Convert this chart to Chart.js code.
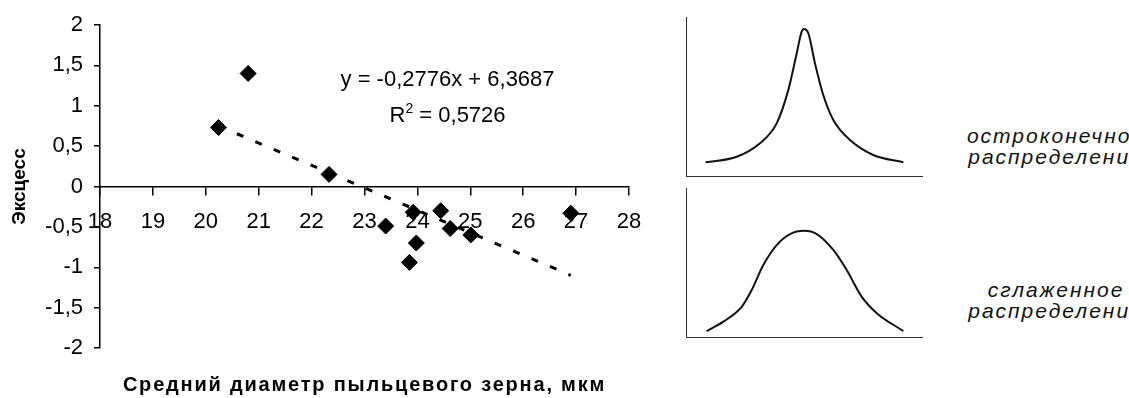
<!DOCTYPE html>
<html lang="ru">
<head>
    <meta charset="UTF-8">
    <title>Эксцесс и средний диаметр пыльцевого зерна</title>
    <script src="https://cdn.jsdelivr.net/npm/chart.js"></script>
    <style>
        body { margin: 0; background: #fff; width: 1129px; height: 398px; overflow: hidden; position: relative;
               font-family: "Liberation Sans", Arial, sans-serif; }
        canvas { position: absolute; }
        #main { left: 0; top: 0; }
        #peak { left: 676px; top: 7px; }
        #flat { left: 676px; top: 178px; }
        .lbl { position: absolute; width: 200px; text-align: center; font-style: italic; font-size: 21px;
               line-height: 21px; letter-spacing: 2px; white-space: nowrap; color: #111; }
        #xtitle { position: absolute; left: 0; width: 729px; top: 372px; text-align: center; font-weight: bold;
                  font-size: 20px; line-height: 24px; letter-spacing: 1.8px; white-space: nowrap; color: #000; }
    </style>
</head>
<body>
    <canvas id="main" width="660" height="398"></canvas>
    <canvas id="peak" width="256" height="179"></canvas>
    <canvas id="flat" width="256" height="169"></canvas>
    <div id="xtitle">Средний диаметр пыльцевого зерна, мкм</div>
    <div class="lbl" style="left:956px; top:125px">остроконечное<br>распределение</div>
    <div class="lbl" style="left:956px; top:279px">сглаженное<br>распределение</div>

    <script>
        // scatter: mean pollen grain diameter vs kurtosis
        const diameter = [20.24, 20.8, 22.33, 23.4, 23.92, 23.98, 23.85, 24.44, 24.62, 25.01, 26.9];
        const excess   = [0.73, 1.4, 0.15, -0.49, -0.32, -0.70, -0.94, -0.30, -0.52, -0.60, -0.33];

        // linear trend ends
        const trendX = [20.24, 26.9];
        const trendY = [0.75, -1.10];

        const eqText = 'y = -0,2776x + 6,3687';
        const r2Text = '0,5726';
        const eqAt = [24.57, 1.24];
        const r2At = [24.57, 0.80];

        // sketch curves on the right
        const peakX = [-5, -3.42, -2.24, -1.39, -0.8, -0.37, -0.12, 0, 0.22, 0.56, 0.98, 1.49, 2.34, 3.52, 5.05];
        const peakY = [0.086, 0.121, 0.206, 0.331, 0.54, 0.772, 0.908, 0.925, 0.898, 0.708, 0.509, 0.352, 0.226, 0.132, 0.086];
        const flatX = [-4.95, -4.1, -3.16, -2.66, -2.07, -1.39, -0.71, 0, 0.65, 1.49, 2.17, 2.93, 3.7, 5.05];
        const flatY = [0.04, 0.103, 0.204, 0.315, 0.483, 0.617, 0.691, 0.713, 0.691, 0.584, 0.45, 0.271, 0.16, 0.04];

        const FAMILY = '"Liberation Sans", Arial, sans-serif';
        const tickFont = { family: FAMILY, size: 22 };

        const trendLabel = {
            id: 'trendLabel',
            afterDatasetsDraw(chart) {
                const { ctx, scales: { x, y } } = chart;
                ctx.save();
                ctx.fillStyle = '#000';
                ctx.textBaseline = 'alphabetic';
                ctx.font = '22px ' + FAMILY;
                ctx.textAlign = 'center';
                ctx.fillText(eqText, x.getPixelForValue(eqAt[0]), y.getPixelForValue(eqAt[1]));

                // R² with a raised 2
                ctx.textAlign = 'left';
                const big = '22px ' + FAMILY, small = '14px ' + FAMILY;
                ctx.font = big;
                const wR = ctx.measureText('R').width;
                const wRest = ctx.measureText(' = ' + r2Text).width;
                ctx.font = small;
                const w2 = ctx.measureText('2').width;
                let px = x.getPixelForValue(r2At[0]) - (wR + w2 + wRest) / 2;
                const py = y.getPixelForValue(r2At[1]);
                ctx.font = big;
                ctx.fillText('R', px, py);
                px += wR;
                ctx.font = small;
                ctx.fillText('2', px, py - 9);
                px += w2;
                ctx.font = big;
                ctx.fillText(' = ' + r2Text, px, py);
                ctx.restore();
            }
        };

        new Chart(document.getElementById('main'), {
            type: 'scatter',
            data: {
                datasets: [{
                    label: 'Эксцесс',
                    data: diameter.map((d, i) => ({ x: d, y: excess[i] })),
                    pointStyle: 'rectRot',
                    pointRadius: 8,
                    backgroundColor: '#000',
                    borderColor: '#000',
                    borderWidth: 1,
                    order: 1
                }, {
                    label: 'Линейный',
                    data: trendX.map((d, i) => ({ x: d, y: trendY[i] })),
                    showLine: true,
                    borderColor: '#000',
                    borderWidth: 3,
                    borderDash: [7, 13],
                    pointRadius: 0,
                    fill: false,
                    order: 2
                }]
            },
            options: {
                responsive: false,
                animation: false,
                layout: { padding: { top: 25, right: 31, left: 0, bottom: 50 } },
                plugins: { legend: { display: false }, tooltip: { enabled: false } },
                scales: {
                    x: {
                        type: 'linear',
                        position: { y: 0 },
                        min: 18, max: 28,
                        ticks: { stepSize: 1, font: tickFont, color: '#000', padding: 14 },
                        grid: { drawOnChartArea: false, tickLength: 8, color: '#000', lineWidth: 1.5 },
                        border: { color: '#000', width: 1.5 }
                    },
                    y: {
                        min: -2, max: 2,
                        ticks: { stepSize: 0.5, font: tickFont, color: '#000', padding: 11,
                                 callback: v => String(v).replace('.', ',') },
                        grid: { drawOnChartArea: false, tickLength: 6, color: '#000', lineWidth: 1.5 },
                        border: { color: '#000', width: 1.5 },
                        title: {
                            display: true,
                            text: 'Эксцесс',
                            font: { family: FAMILY, size: 19, weight: 'bold' },
                            color: '#000',
                            padding: { top: 8, bottom: 0 }
                        },
                        afterFit(s) { s.width = 100; }
                    }
                }
            },
            plugins: [trendLabel]
        });

        function sketch(id, xs, ys) {
            new Chart(document.getElementById(id), {
                type: 'line',
                data: {
                    datasets: [{
                        data: xs.map((v, i) => ({ x: v, y: ys[i] })),
                        borderColor: '#111',
                        borderWidth: 2,
                        pointRadius: 0,
                        cubicInterpolationMode: 'monotone',
                        fill: false
                    }]
                },
                options: {
                    responsive: false,
                    animation: false,
                    layout: { padding: 10 },
                    plugins: { legend: { display: false }, tooltip: { enabled: false } },
                    scales: {
                        x: { type: 'linear', min: -6, max: 6, ticks: { display: false }, grid: { display: false },
                             border: { color: '#333', width: 1 }, afterFit(s) { s.height = 0; } },
                        y: { min: 0, max: 1, ticks: { display: false }, grid: { display: false },
                             border: { color: '#333', width: 1 }, afterFit(s) { s.width = 0; } }
                    }
                }
            });
        }

        sketch('peak', peakX, peakY);
        sketch('flat', flatX, flatY);
    </script>
</body>
</html>
